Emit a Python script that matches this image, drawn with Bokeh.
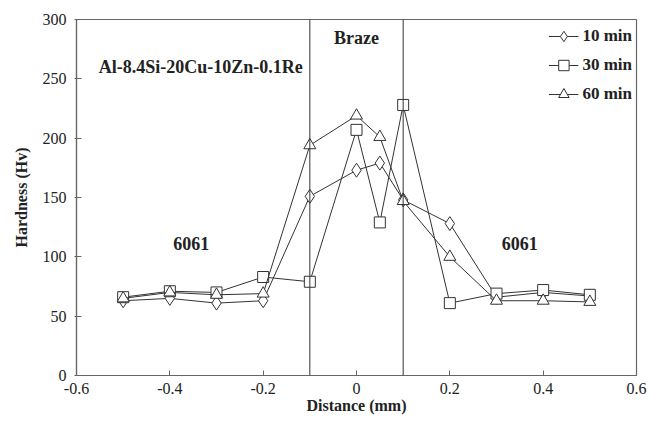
from bokeh.plotting import figure
from bokeh.models import Range1d, Label, Span, FixedTicker, Legend, LegendItem
from bokeh.embed import file_html
from bokeh.resources import INLINE

distance = [-0.5, -0.4, -0.3, -0.2, -0.1, 0.0, 0.05, 0.1, 0.2, 0.3, 0.4, 0.5]
hv_10min = [63, 65, 61, 63, 151, 173, 179, 148, 128, 66, 70, 67]
hv_30min = [66, 71, 70, 83, 79, 207, 129, 228, 61, 69, 72, 68]
hv_60min = [65, 70, 68, 69, 194, 219, 201, 147, 100, 63, 63, 62]
braze_bounds = [-0.1, 0.1]
x_ticks = [-0.6, -0.4, -0.2, 0, 0.2, 0.4, 0.6]
y_ticks = [0, 50, 100, 150, 200, 250, 300]

FONT = "'Liberation Serif', 'Times New Roman', serif"
INK = "#222222"

p = figure(width=663, height=429, output_backend="svg", toolbar_location=None,
           x_range=Range1d(-0.6, 0.6), y_range=Range1d(0, 300),
           min_border_left=76, min_border_right=27, min_border_top=19, min_border_bottom=54)
p.xgrid.visible = False
p.ygrid.visible = False
p.outline_line_color = "#666666"
p.outline_line_width = 1.2
p.background_fill_color = "white"
p.border_fill_color = "white"

for ax in (p.xaxis[0], p.yaxis[0]):
    ax.axis_line_color = "#666666"
    ax.axis_line_width = 1.2
    ax.major_tick_line_color = "#666666"
    ax.minor_tick_line_color = None
    ax.major_label_text_font = FONT
    ax.major_label_text_font_size = "16px"
    ax.major_label_text_color = INK
    ax.axis_label_text_font = FONT
    ax.axis_label_text_font_size = "16px"
    ax.axis_label_text_font_style = "bold"
    ax.axis_label_text_color = INK

p.xaxis.ticker = FixedTicker(ticks=x_ticks)
p.yaxis.ticker = FixedTicker(ticks=y_ticks)
p.xaxis.major_label_overrides = {-0.6: "-0.6", -0.4: "-0.4", -0.2: "-0.2", 0: "0",
                                 0.2: "0.2", 0.4: "0.4", 0.6: "0.6"}
p.xaxis.major_tick_in = 5
p.xaxis.major_tick_out = 0
p.yaxis.major_tick_in = 5
p.yaxis.major_tick_out = 2
p.xaxis.axis_label = "Distance (mm)"
p.yaxis.axis_label = "Hardness (Hv)"
p.xaxis.major_label_standoff = 7
p.xaxis.axis_label_standoff = 0
p.yaxis.major_label_standoff = 8
p.yaxis.axis_label_standoff = 10

for b in braze_bounds:
    p.add_layout(Span(location=b, dimension="height", line_color="#333333", line_width=1))

series = [("10 min", hv_10min, "diamond", 14),
          ("30 min", hv_30min, "square", 11),
          ("60 min", hv_60min, "triangle", 12)]
items = []
for name, vals, marker, size in series:
    l = p.line(distance, vals, line_color="#333333", line_width=1)
    s = p.scatter(distance, vals, marker=marker, size=size, fill_color="white",
                  line_color="#333333", line_width=1)
    items.append(LegendItem(label=name, renderers=[l, s]))

legend = Legend(items=items, location="top_right")
legend.border_line_color = None
legend.background_fill_alpha = 0
legend.label_text_font = FONT
legend.label_text_font_size = "17px"
legend.label_text_font_style = "bold"
legend.label_text_color = INK
legend.glyph_width = 30
legend.glyph_height = 26
legend.label_height = 26
legend.spacing = 3
legend.padding = 8
legend.margin = 4
legend.label_standoff = 4
p.add_layout(legend)

def lab(x, y, t):
    p.add_layout(Label(x=x, y=y, text=t, text_font=FONT, text_font_size="18px",
                       text_font_style="bold", text_color=INK,
                       text_align="center", text_baseline="middle"))

lab(-0.334, 260, "Al-8.4Si-20Cu-10Zn-0.1Re")
lab(0.0, 284, "Braze")
lab(-0.354, 111, "6061")
lab(0.35, 111, "6061")

open("out.html", "w").write(file_html(p, INLINE))
